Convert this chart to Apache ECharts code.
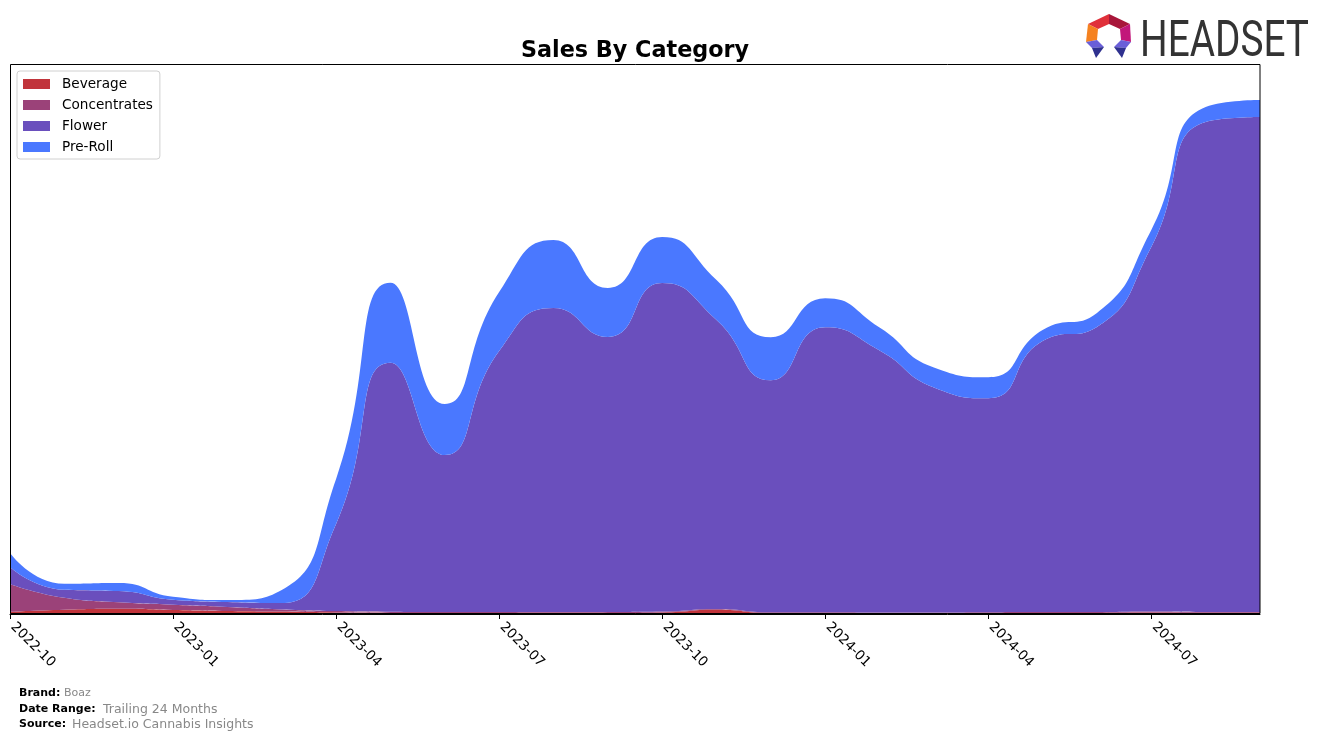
<!DOCTYPE html>
<html>
<head>
<meta charset="utf-8">
<script src="https://cdn.jsdelivr.net/npm/echarts@6/dist/echarts.min.js"></script>
<style>
html,body{margin:0;padding:0;background:#fff;}
#chart{width:1324px;height:739px;}
</style>
</head>
<body>
<div id="chart"></div>
<script>
const months = ["2022-10","2022-11","2022-12","2023-01","2023-02","2023-03","2023-04","2023-05","2023-06","2023-07","2023-08","2023-09","2023-10","2023-11","2023-12","2024-01","2024-02","2024-03","2024-04","2024-05","2024-06","2024-07","2024-08","2024-09"];
const beverage = [2100, 4200, 5200, 4100, 3100, 2400, 1500, 1100, 900, 1000, 1200, 1100, 1600, 4300, 900, 800, 700, 800, 900, 1000, 1100, 1500, 1200, 1100];
const concentrates = [28000, 12000, 6500, 5200, 4000, 2200, 1500, 1200, 1000, 900, 800, 900, 800, 700, 800, 900, 800, 700, 800, 900, 800, 900, 800, 900];
const flower = [17000, 8000, 11300, 5000, 4900, 6400, 87000, 249000, 157000, 261000, 304000, 275000, 328500, 289000, 232000, 285000, 262000, 225000, 214000, 271000, 285000, 364500, 490000, 495000];
const preRoll = [14000, 6000, 8000, 3000, 2000, 13000, 45000, 80000, 51000, 59000, 68000, 49000, 46000, 40000, 43000, 29000, 23000, 20000, 21000, 11000, 14000, 17000, 15000, 17000];
const seriesNames = ["Beverage","Concentrates","Flower","Pre-Roll"];
const seriesColors = ["#c1343b","#9b4279","#6a4fbd","#4a78ff"];
const seriesData = [beverage, concentrates, flower, preRoll];

const chart = echarts.init(document.getElementById('chart'), null, {renderer:'canvas'});
const FONT = "DejaVu Sans";

const series = seriesNames.map((name, i) => ({
  name: name,
  type: 'line',
  stack: 'total',
  smooth: 0.55,
  symbol: 'none',
  lineStyle: {width: 0},
  areaStyle: {color: seriesColors[i], opacity: 1},
  itemStyle: {color: seriesColors[i]},
  data: seriesData[i]
}));

const option = {
  animation: false,
  backgroundColor: '#ffffff',
  title: {
    text: 'Sales By Category',
    left: 630, top: 35, textAlign: 'center',
    textStyle: {fontFamily: FONT, fontWeight: 'bold', fontSize: 22.3, color: '#000'}
  },
  legend: {
    orient: 'vertical',
    left: 17, top: 71,
    padding: [5, 7, 4, 6],
    itemWidth: 27, itemHeight: 10, itemGap: 5,
    icon: 'rect',
    backgroundColor: 'rgba(255,255,255,0.85)',
    borderColor: '#d0d0d0', borderWidth: 1, borderRadius: 3,
    textStyle: {fontFamily: FONT, fontSize: 13.6, color: '#000', lineHeight: 16, padding: [0,0,0,7]},
    data: seriesNames
  },
  grid: {left: 10, right: 64, top: 65, bottom: 125, containLabel: false},
  xAxis: {
    type: 'category',
    boundaryGap: false,
    data: months,
    axisLine: {show: true, lineStyle: {color: '#000', width: 1}},
    axisTick: {show: true, interval: 2, length: 5, lineStyle: {color: '#000'}},
    axisLabel: {interval: 2, rotate: -45, margin: 8, padding: [0,0,0,4], fontFamily: FONT, fontSize: 13.6, color: '#000'},
    splitLine: {show: false}
  },
  yAxis: {
    type: 'value', min: 0, max: 549000,
    axisLine: {show: false}, axisTick: {show: false}, axisLabel: {show: false}, splitLine: {show: false}
  },
  series: series,
  graphic: [
    {type: 'rect', z: 100, silent: true, shape: {x: 10.5, y: 64.5, width: 1249.5, height: 549}, style: {fill: 'none', stroke: '#000', lineWidth: 1}},
    // footer
    {type: 'text', left: 19, top: 688, style: {text: 'Brand:', font: 'bold 11px "DejaVu Sans"', fill: '#000'}},
    {type: 'text', left: 64, top: 688, style: {text: 'Boaz', font: '11px "DejaVu Sans"', fill: '#888'}},
    {type: 'text', left: 19, top: 704, style: {text: 'Date Range:', font: 'bold 11px "DejaVu Sans"', fill: '#000'}},
    {type: 'text', left: 103, top: 703, style: {text: 'Trailing 24 Months', font: '12.5px "DejaVu Sans"', fill: '#888'}},
    {type: 'text', left: 19, top: 719, style: {text: 'Source:', font: 'bold 11px "DejaVu Sans"', fill: '#000'}},
    {type: 'text', left: 72, top: 718, style: {text: 'Headset.io Cannabis Insights', font: '12.5px "DejaVu Sans"', fill: '#888'}},
    // logo icon
    {type: 'polygon', shape: {points: [[1088,24],[1109,14],[1109,24],[1098,29]]}, style: {fill: '#e0303a'}},
    {type: 'polygon', shape: {points: [[1109,14],[1130,24],[1120,29],[1109,24]]}, style: {fill: '#a8163a'}},
    {type: 'polygon', shape: {points: [[1130,24],[1131,42],[1121,40],[1120,29]]}, style: {fill: '#c2177a'}},
    {type: 'polygon', shape: {points: [[1088,24],[1098,29],[1097,40],[1086,42]]}, style: {fill: '#f58220'}},
    {type: 'polygon', shape: {points: [[1086,42],[1097,40],[1104,47],[1092,48]]}, style: {fill: '#6a5fd8'}},
    {type: 'polygon', shape: {points: [[1092,48],[1104,47],[1096,58]]}, style: {fill: '#2f318f'}},
    {type: 'polygon', shape: {points: [[1131,42],[1121,40],[1114,47],[1126,48]]}, style: {fill: '#6a5fd8'}},
    {type: 'polygon', shape: {points: [[1126,48],[1114,47],[1122,58]]}, style: {fill: '#2f318f'}},
    {type: 'text', x: 1140, y: 18, scaleX: 0.775, style: {text: 'HEADSET', font: '50px Roboto', fill: '#333333', verticalAlign: 'top'}}
  ]
};
chart.setOption(option);
</script>
</body>
</html>
